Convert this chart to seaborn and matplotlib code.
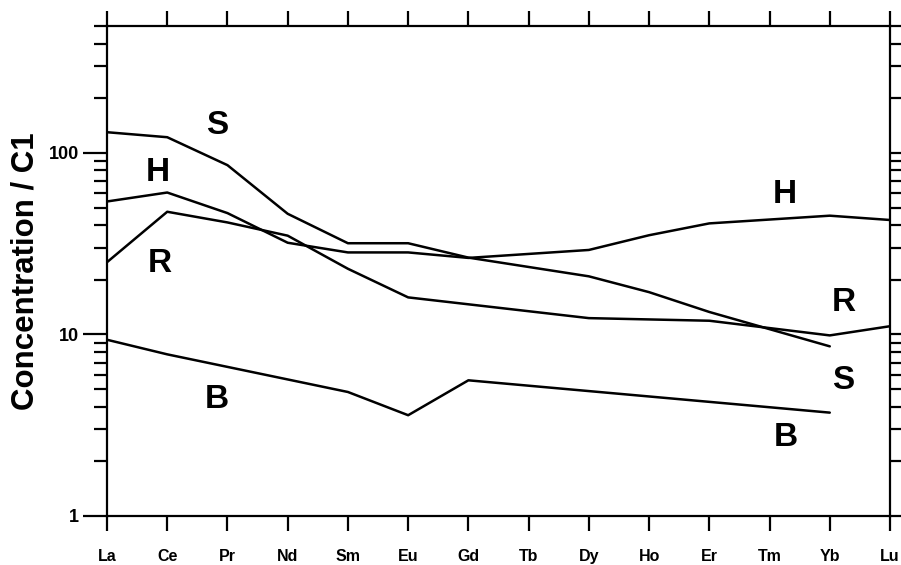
import numpy as np
import pandas as pd
import matplotlib
matplotlib.use("Agg")
import matplotlib.pyplot as plt
from matplotlib.ticker import LogLocator, NullFormatter, FixedLocator
import seaborn as sns

elements = ['La', 'Ce', 'Pr', 'Nd', 'Sm', 'Eu', 'Gd', 'Tb', 'Dy', 'Ho', 'Er', 'Tm', 'Yb', 'Lu']
S = [130, 122, 85.6, 46.2, 31.8, 31.8, 26.5, None, 20.9, 17.1, 13.3, None, 8.6, None]
H = [54, 60.5, 46.6, 32, 28.3, 28.3, 26.4, None, 29.2, 35.2, 40.9, None, 45.1, 42.7]
R = [25, 47.4, 41.4, 35, 23, 16, None, None, 12.3, None, 11.9, None, 9.88, 11.1]
B = [9.35, 7.77, None, None, 4.82, 3.59, 5.59, None, None, None, None, None, 3.71, None]
series_names = ['S', 'H', 'R', 'B']

# text labels (letter, x index, y value)
label_text = ['S', 'H', 'R', 'B', 'H', 'R', 'S', 'B']
label_x = [1.83, 0.85, 0.88, 1.83, 11.26, 12.24, 12.22, 11.27]
label_y = [140.7, 77.6, 24.6, 4.39, 58.8, 15.0, 5.59, 2.72]

rows = []
for name, vals in zip(series_names, [S, H, R, B]):
    for i, v in enumerate(vals):
        if v is not None:
            rows.append({'series': name, 'idx': i, 'value': v})
df = pd.DataFrame(rows)

sns.set_theme(style="ticks")
plt.rcParams['font.family'] = ['Liberation Sans', 'DejaVu Sans']
plt.rcParams['font.weight'] = 'bold'
plt.rcParams['text.color'] = 'black'
plt.rcParams['axes.labelcolor'] = 'black'
plt.rcParams['xtick.color'] = 'black'
plt.rcParams['ytick.color'] = 'black'

fig = plt.figure(figsize=(9.01, 5.65), dpi=100)
ax = fig.add_axes([107/901, (565-516)/565, (890-107)/901, (516-26)/565])

sns.lineplot(data=df, x='idx', y='value', hue='series', units='series',
             estimator=None, sort=True, palette=['black']*4, legend=False,
             linewidth=1.8, ax=ax)

ax.set_yscale('log')
ax.set_ylim(1, 500)
ax.set_xlim(0, len(elements) - 1)

ax.set_xticks(range(len(elements)))
ax.set_xticklabels(elements, fontsize=11.5, fontweight='bold', color='black')
ax.yaxis.set_major_locator(FixedLocator([1, 10, 100]))
ax.set_yticklabels(['1', '10', '100'], fontsize=13, fontweight='bold', color='black')
ax.yaxis.set_minor_locator(LogLocator(base=10, subs=np.arange(2, 10)))
ax.yaxis.set_minor_formatter(NullFormatter())

ax.tick_params(axis='x', which='major', direction='out', length=10.5, width=1.6,
               top=True, bottom=True, labeltop=False, pad=13, colors='black')
ax.tick_params(axis='y', which='major', direction='out', length=17, width=1.6,
               left=True, right=True, labelright=False, pad=3, colors='black')
ax.tick_params(axis='y', which='minor', direction='out', length=9.5, width=1.6,
               left=True, right=True, colors='black')

for sp in ax.spines.values():
    sp.set_linewidth(1.6)
    sp.set_color('black')
    sp.set_visible(True)

ax.set_xlabel('')
ax.set_ylabel('Concentration / C1', fontsize=22.5, fontweight='bold', labelpad=6, color='black')

for t, x, y in zip(label_text, label_x, label_y):
    ax.text(x, y, t, fontsize=24, fontweight='bold', ha='center', va='center', color='black')

ax.set_facecolor('white')
fig.patch.set_facecolor('white')
fig.savefig('out.png', dpi=100)
